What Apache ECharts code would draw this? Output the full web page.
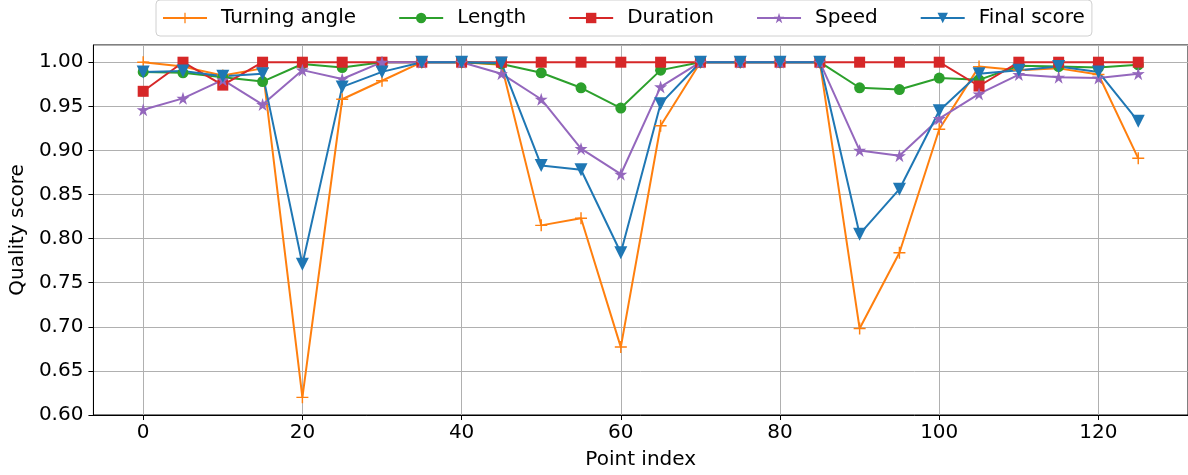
<!DOCTYPE html>
<html>
<head>
<meta charset="utf-8">
<script src="https://cdn.jsdelivr.net/npm/echarts@6/dist/echarts.min.js"></script>
<style>
  html, body { margin: 0; padding: 0; background: #fff; }
  #chart { width: 1188px; height: 475px; }
</style>
</head>
<body>
<div id="chart"></div>
<script>
// point indices along the trajectory
const pointIndex = [0, 5, 10, 15, 20, 25, 30, 35, 40, 45, 50, 55, 60, 65, 70, 75, 80, 85, 90, 95, 100, 105, 110, 115, 120, 125]

const turningAngle = [1.000, 0.995, 0.985, 0.993, 0.620, 0.958, 0.979, 1.000, 1.000, 0.997, 0.815, 0.823, 0.677, 0.928, 1.000, 1.000, 1.000, 1.000, 0.698, 0.784, 0.924, 0.995, 0.991, 0.993, 0.986, 0.891]
const length = [0.989, 0.988, 0.983, 0.978, 0.998, 0.994, 1.000, 1.000, 1.000, 0.998, 0.988, 0.971, 0.948, 0.991, 1.000, 1.000, 1.000, 1.000, 0.971, 0.969, 0.982, 0.980, 0.996, 0.995, 0.994, 0.997]
const duration = [0.967, 1.000, 0.974, 1.000, 1.000, 1.000, 1.000, 1.000, 1.000, 1.000, 1.000, 1.000, 1.000, 1.000, 1.000, 1.000, 1.000, 1.000, 1.000, 1.000, 1.000, 0.973, 1.000, 1.000, 1.000, 1.000]
const speed = [0.946, 0.959, 0.980, 0.952, 0.991, 0.981, 1.000, 1.000, 1.000, 0.987, 0.958, 0.902, 0.873, 0.972, 1.000, 1.000, 1.000, 1.000, 0.900, 0.894, 0.936, 0.964, 0.986, 0.983, 0.982, 0.987]
const finalScore = [0.989, 0.990, 0.984, 0.987, 0.771, 0.972, 0.989, 1.000, 1.000, 0.999, 0.883, 0.878, 0.784, 0.953, 1.000, 1.000, 1.000, 1.000, 0.805, 0.856, 0.945, 0.987, 0.991, 0.995, 0.989, 0.933]

const xTicks = [0, 20, 40, 60, 80, 100, 120]

const FONT = 'DejaVu Sans'
const FS = 20
const PLUS = 'path://M4.4,0H5.6V10H4.4Z M0,4.4H10V5.6H0Z'
const STAR = 'path://M50,0L61.2,34.6L97.6,34.5L68.1,55.9L79.4,90.5L50,69L20.6,90.5L31.9,55.9L2.4,34.5L38.8,34.6Z'

const zip = (ys) => pointIndex.map((x, i) => [x, ys[i]])

const mkSeries = (name, data, color, symbol, size, extra = {}) => ({
  name,
  type: 'line',
  data: zip(data),
  symbol,
  symbolSize: size,
  showAllSymbol: true,
  lineStyle: { color, width: 2 },
  itemStyle: { color },
  animation: false,
  ...extra
})

const chart = echarts.init(document.getElementById('chart'))

const option = {
  backgroundColor: '#fff',
  textStyle: { fontFamily: FONT },
  legend: {
    left: 156,
    top: 0,
    itemWidth: 44,
    itemHeight: 13,
    itemGap: 42,
    padding: [8, 7, 8, 6],
    borderColor: '#d0d0d0',
    borderWidth: 1,
    borderRadius: 4,
    textStyle: { fontFamily: FONT, fontSize: FS, color: '#000', padding: [0, 0, 0, 9] },
    data: ['Turning angle', 'Length', 'Duration', 'Speed', 'Final score']
  },
  grid: {
    left: 90,
    right: -4,
    top: 45,
    bottom: 58,
    show: true,
    borderColor: '#000',
    borderWidth: 1
  },
  xAxis: {
    type: 'value',
    min: -6.25,
    max: 131.25,
    name: 'Point index',
    nameLocation: 'middle',
    nameGap: 35,
    nameTextStyle: { fontFamily: FONT, fontSize: FS, color: '#000' },
    axisLine: { onZero: false, lineStyle: { color: '#000' } },
    axisTick: { show: true, length: 5, customValues: xTicks, lineStyle: { color: '#000' } },
    axisLabel: { customValues: xTicks, fontFamily: FONT, fontSize: FS, color: '#000', margin: 8 },
    splitLine: { show: true, lineStyle: { color: '#b0b0b0', width: 1 } }
  },
  yAxis: {
    type: 'value',
    min: 0.6,
    max: 1.0195,
    interval: 0.05,
    name: 'Quality score',
    nameLocation: 'middle',
    nameGap: 58,
    nameTextStyle: { fontFamily: FONT, fontSize: FS, color: '#000' },
    axisLine: { show: true, onZero: false, lineStyle: { color: '#000' } },
    axisTick: { show: true, length: 5, lineStyle: { color: '#000' } },
    axisLabel: {
      fontFamily: FONT, fontSize: FS, color: '#000', margin: 10,
      showMaxLabel: false,
      formatter: (v) => v.toFixed(2)
    },
    splitLine: { show: true, lineStyle: { color: '#b0b0b0', width: 1 } }
  },
  series: [
    mkSeries('Turning angle', turningAngle, '#ff7f0e', PLUS, 12),
    mkSeries('Length', length, '#2ca02c', 'circle', 11),
    mkSeries('Duration', duration, '#d62728', 'rect', 11),
    mkSeries('Speed', speed, '#9467bd', STAR, 13),
    mkSeries('Final score', finalScore, '#1f77b4', 'triangle', 13, { symbolRotate: 180 })
  ]
}

chart.setOption(option)
</script>
</body>
</html>
